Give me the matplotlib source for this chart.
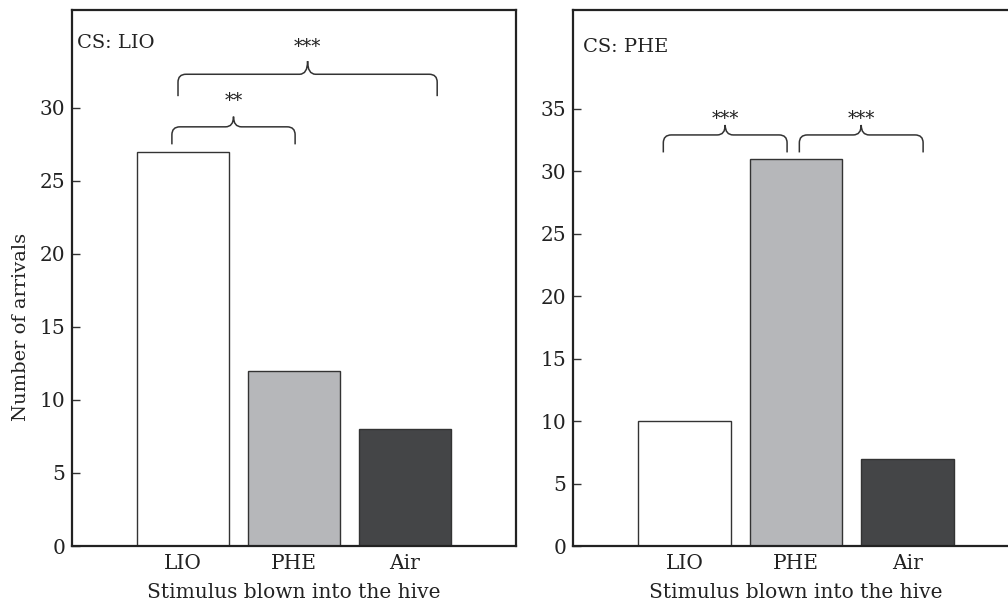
import matplotlib
matplotlib.use("Agg")
import matplotlib.pyplot as plt
from matplotlib.path import Path
from matplotlib.patches import PathPatch

categories = ["LIO", "PHE", "Air"]
lio_values = [27, 12, 8]
phe_values = [10, 31, 7]
bar_colors = ["#ffffff", "#b6b7ba", "#444547"]
panel_labels = ["CS: LIO", "CS: PHE"]
left_yticks = [0, 5, 10, 15, 20, 25, 30]
right_yticks = [0, 5, 10, 15, 20, 25, 30, 35]
# significance brackets: (x_start, x_end, y_end, y_horizontal, y_peak, y_text_baseline, label)
left_sig = [(-0.10, 1.01, 27.5, 28.7, 29.4, 30.1, "**"),
            (-0.045, 2.29, 30.8, 32.3, 33.2, 33.8, "***")]
right_sig = [(-0.19, 0.92, 31.5, 32.9, 33.7, 33.8, "***"),
             (1.03, 2.14, 31.5, 32.9, 33.7, 33.8, "***")]

FONT = "DejaVu Serif"
plt.rcParams["font.family"] = FONT
TXT = "#222222"

fig = plt.figure(figsize=(10.08, 6.08), dpi=100)
axL = fig.add_axes([72/1008, 1-546/608, 444/1008, 536/608])
axR = fig.add_axes([573/1008, 1-546/608, 446/1008, 536/608])


def brace(ax, x0, x1, ye, yh, yp, r_px=8):
    p0 = ax.transData.transform((0, 0))
    p1 = ax.transData.transform((1, 1))
    rx = r_px / (p1[0] - p0[0])
    ry = r_px / (p1[1] - p0[1])
    xm = (x0 + x1) / 2
    verts = [(x0, ye), (x0, yh - ry), (x0, yh), (x0 + rx, yh),
             (xm - rx, yh), (xm, yh), (xm, yp),
             (xm, yh), (xm + rx, yh),
             (x1 - rx, yh), (x1, yh), (x1, yh - ry), (x1, ye)]
    codes = [Path.MOVETO, Path.LINETO, Path.CURVE3, Path.CURVE3,
             Path.LINETO, Path.CURVE3, Path.CURVE3,
             Path.CURVE3, Path.CURVE3,
             Path.LINETO, Path.CURVE3, Path.CURVE3, Path.LINETO]
    ax.add_patch(PathPatch(Path(verts, codes), fill=False, lw=1.1,
                           edgecolor="#333333", clip_on=False))


def setup(ax, values, ylim, yticks, label, sigs, lx, ly):
    x = list(range(len(categories)))
    ax.bar(x, values, width=0.83, color=bar_colors, edgecolor="#333333", linewidth=1.0, zorder=2)
    ax.set_xlim(-1, 3)
    ax.set_ylim(0, ylim)
    ax.set_xticks(x)
    ax.set_xticklabels(categories)
    ax.set_yticks(yticks)
    ax.tick_params(direction="in", length=6, width=1, colors="#333333",
                   labelsize=14.5, labelcolor=TXT, pad=5)
    ax.tick_params(axis="x", pad=6)
    for s in ax.spines.values():
        s.set_linewidth(1.6)
        s.set_color("#222222")
    ax.text(lx, ly, label, transform=ax.transAxes, fontsize=14, color=TXT,
            ha="left", va="center")
    for (x0, x1, ye, yh, yp, yt, lab) in sigs:
        brace(ax, x0, x1, ye, yh, yp)
        ax.text((x0 + x1) / 2, yt, lab, ha="center", va="baseline", fontsize=13, color=TXT)


setup(axL, lio_values, 36.7, left_yticks, panel_labels[0], left_sig, 0.011, 0.938)
setup(axR, phe_values, 42.9, right_yticks, panel_labels[1], right_sig, 0.022, 0.931)

fig.text(294/1008, 1-592/608, "Stimulus blown into the hive", ha="center", va="center",
         fontsize=14.5, color=TXT)
fig.text(796/1008, 1-592/608, "Stimulus blown into the hive", ha="center", va="center",
         fontsize=14.5, color=TXT)
fig.text(21/1008, 1-327/608, "Number of arrivals", rotation=90, ha="center", va="center",
         fontsize=14, color=TXT)

fig.savefig("out.png", dpi=100)
